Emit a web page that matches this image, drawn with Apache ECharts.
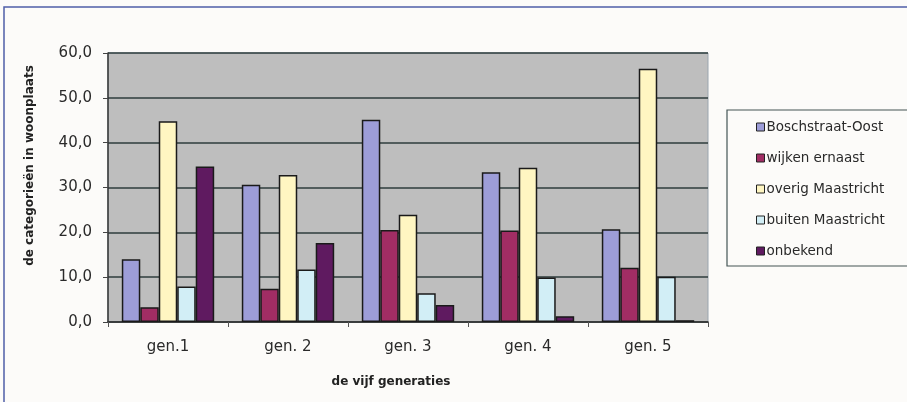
<!DOCTYPE html>
<html><head><meta charset="utf-8">
<script src="https://cdn.jsdelivr.net/npm/echarts@6/dist/echarts.min.js"></script>
<style>html,body{margin:0;padding:0;background:#fcfbf9;}#c{width:907px;height:402px;}</style>
</head><body><div id="c"></div>
<script>
const categories = ['gen.1', 'gen. 2', 'gen. 3', 'gen. 4', 'gen. 5'];
const seriesNames = ['Boschstraat-Oost', 'wijken ernaast', 'overig Maastricht', 'buiten Maastricht', 'onbekend'];
const boschstraatOost = [14.0, 30.6, 45.1, 33.4, 20.7];
const wijkenErnaast = [3.3, 7.4, 20.5, 20.4, 12.1];
const overigMaastricht = [44.8, 32.8, 23.9, 34.4, 56.5];
const buitenMaastricht = [7.9, 11.7, 6.4, 9.9, 10.1];
const onbekend = [34.7, 17.6, 3.8, 1.3, 0.4];
const yTicks = [0, 10, 20, 30, 40, 50, 60];

const colors = ['#9d9dd8', '#a12d64', '#fff6c2', '#d2eef6', '#5f1a60'];
const values = [boschstraatOost, wijkenErnaast, overigMaastricht, buitenMaastricht, onbekend];

const chart = echarts.init(document.getElementById('c'));
chart.setOption({
  backgroundColor: '#fcfbf9',
  animation: false,
  grid: { left: 108, right: 199, top: 53, bottom: 80, show: true, backgroundColor: '#bebebe', borderColor: '#9aa6b0', borderWidth: 1 },
  legend: {
    orient: 'vertical', left: 751, top: 115, itemGap: 17, itemWidth: 8, itemHeight: 8,
    icon: 'rect',
    data: seriesNames,
    textStyle: { fontFamily: 'DejaVu Sans', fontSize: 13.5, color: '#2a2a2a', padding: [0, 0, 0, -3], lineHeight: 14 },
    itemStyle: { borderColor: '#222', borderWidth: 1 }
  },
  xAxis: {
    type: 'category', data: categories,
    name: 'de vijf generaties', nameLocation: 'middle', nameGap: 54,
    nameTextStyle: { fontFamily: 'DejaVu Sans', fontWeight: 'bold', fontSize: 12, color: '#222', padding: [0, 34, 0, 0] },
    axisLine: { lineStyle: { color: '#333', width: 1.5 } },
    axisTick: { show: true, length: 5, lineStyle: { color: '#555' } },
    axisLabel: { fontFamily: 'DejaVu Sans', fontSize: 15, color: '#2a2a2a', margin: 18 }
  },
  yAxis: {
    type: 'value', min: yTicks[0], max: yTicks[yTicks.length - 1], interval: 10,
    name: 'de categorieën in woonplaats', nameLocation: 'middle', nameGap: 72, nameRotate: 90,
    nameTextStyle: { fontFamily: 'DejaVu Sans', fontWeight: 'bold', fontSize: 12, color: '#222', padding: [0, 0, 0, 44] },
    axisLine: { show: true, lineStyle: { color: '#333', width: 1.5 } },
    axisTick: { show: true, length: 5, lineStyle: { color: '#444' } },
    axisLabel: { fontFamily: 'DejaVu Sans', fontSize: 15, color: '#2a2a2a', margin: 16,
      formatter: v => v.toFixed(1).replace('.', ',') },
    splitLine: { lineStyle: { color: '#2e3c3c', width: 1.5 } }
  },
  series: seriesNames.map((n, i) => ({
    name: n, type: 'bar', data: values[i],
    barGap: '0%', barCategoryGap: '23%',
    itemStyle: { color: colors[i], borderColor: '#1a1a1a', borderWidth: 1.5 }
  })),
  graphic: [
    { type: 'rect', shape: { x: 4, y: 7, width: 1000, height: 600 }, style: { fill: 'none', stroke: '#4f5fa8', lineWidth: 1.5 }, silent: true },
    { type: 'rect', shape: { x: 727, y: 110, width: 300, height: 156 }, style: { fill: 'none', stroke: '#445555', lineWidth: 1.2 }, silent: true }
  ]
});
</script></body></html>
